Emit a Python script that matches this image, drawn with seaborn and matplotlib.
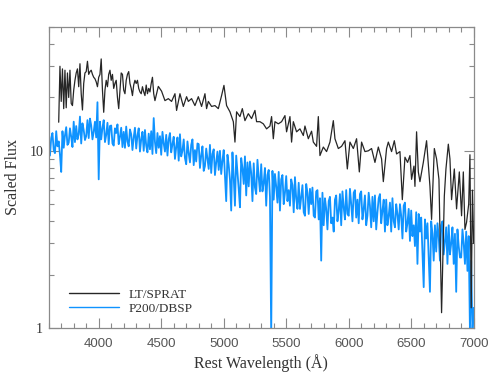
import numpy as np
import pandas as pd
import matplotlib
matplotlib.use("Agg")
import matplotlib.pyplot as plt
import seaborn as sns
from matplotlib.ticker import FixedLocator, NullFormatter, FixedFormatter

# ---------------- data ----------------
series_names = ["LT/SPRAT", "P200/DBSP"]
series_colors = ["#262626", "#0f93ff"]

wl_sprat = (
    list(range(3680, 4450, 10))
    + [4450, 4477, 4503, 4530, 4557, 4583, 4610, 4623, 4650, 4677, 4703, 4717,
       4743, 4770, 4797, 4823, 4850, 4863, 4877, 4903, 4930, 4957, 4983, 5002,
       5023, 5050, 5077, 5090, 5103, 5130, 5149, 5170, 5197, 5223, 5250, 5263,
       5290, 5317, 5343, 5370, 5383, 5397, 5410, 5437, 5463, 5490, 5503, 5530,
       5543, 5557, 5583, 5610, 5637, 5650, 5677, 5703, 5717, 5743, 5757, 5770,
       5797, 5823, 5850, 5877, 5890, 5917, 5943, 5970, 5989, 6010, 6037, 6063,
       6085, 6103, 6130, 6157, 6183, 6210, 6237, 6263, 6277, 6303, 6317, 6343,
       6365, 6383, 6410, 6429, 6450, 6471, 6490, 6503, 6522, 6530, 6543, 6557,
       6570, 6597, 6623, 6650, 6663, 6685, 6703, 6722, 6743, 6765, 6778, 6797,
       6810, 6823, 6845, 6863, 6885, 6903, 6917, 6930, 6943, 6960, 6970, 6980,
       6990, 7000]
)
flux_sprat = [
    14.5, 30,
    19, 29, 17.3, 28.5, 17.5, 27.5, 20, 28.5, 18.5, 18,
    22, 25, 27.5, 29, 23, 31, 21, 17, 24, 27.5,
    28, 32, 27, 28, 28.5, 27, 26, 25.5, 24.5, 23,
    26, 27, 33, 22, 16.5, 22, 25, 23, 27, 28.5,
    25, 27, 22.5, 24, 25, 20, 17.3, 22, 27.5, 27,
    22, 21, 25, 27, 28, 24, 22.5, 20.5, 23.5, 25,
    24, 25, 22.5, 21.5, 21, 23, 21.5, 20.5, 23.5, 21,
    22.5, 21.5, 24, 26, 21,
    19.2, 23.1, 21.7, 19.2, 19.7, 19.0, 21.0, 16.9, 21.0, 17.8, 20.2, 19.0,
    19.7, 18.0, 20.2, 17.8, 21.0, 17.3, 19.0, 17.8, 18.0, 17.3, 20.5, 23.4,
    18.0, 16.6, 14.6, 11.2, 16.6, 15.6, 17.3, 14.8, 16.2, 15.2, 16.9, 14.6,
    14.6, 14.2, 13.3, 13.8, 15.6, 11.7, 14.6, 14.2, 14.6, 15.8, 12.8, 15.6,
    11.2, 14.6, 12.8, 13.3, 12.2, 13.8, 11.7, 12.9, 11.2, 10.6, 15.6, 9.4,
    10.5, 9.9, 11.2, 14.8, 11.7, 10.3, 10.6, 11.4, 7.9, 11.2, 10.3, 11.7,
    7.6, 11.2, 9.9, 10.0, 10.3, 8.6, 10.5, 9.0, 6.7, 10.3, 11.2, 9.9,
    11.4, 9.6, 9.9, 5.3, 9.2, 8.6, 9.4, 6.9, 8.2, 6.3, 12.8, 7.6,
    6.7, 8.6, 11.4, 6.3, 4.1, 10.3, 9.0, 6.9, 1.22, 5.55, 7.9, 10.9,
    9.0, 5.3, 7.9, 4.7, 7.6, 4.3, 7.6, 3.6, 3.95, 5.0, 9.5, 1.3,
    6.0, 3.0,
]

flux_dbsp = [
    12.2, 9.4, 11.8, 12.6, 10.1, 9.7, 12.9, 10.6, 11.3, 9.5,
    7.6, 12.9, 10.4, 12.2, 13.6, 10.8, 11.1, 13.4, 12.0, 10.5,
    14.6, 11.2, 13.8, 11.6, 12.4, 15.6, 11.0, 14.3, 13.1, 11.5,
    12.1, 14.9, 11.8, 15.2, 13.9, 11.6, 12.8, 14.6, 11.9, 18.8,
    6.9, 14.6, 11.6, 13.5, 14.9, 11.2, 12.3, 14.4, 10.9, 13.8,
    13.9, 11.0, 10.7, 13.4, 12.6, 14.1, 10.9, 12.0, 13.5, 10.5,
    12.8, 10.4, 13.7, 11.3, 10.6, 13.2, 12.4, 10.1, 11.9, 13.5,
    10.3, 12.2, 13.4, 9.9, 11.6, 12.8, 10.0, 13.1, 10.7, 9.8,
    12.5, 10.2, 12.9, 9.6, 15.3, 11.2, 9.7, 12.6, 10.4, 12.1,
    9.5, 12.8, 11.0, 9.9, 12.3, 9.4, 11.6, 12.6, 9.8, 10.9,
    12.0, 9.0, 10.5, 11.9, 8.8, 12.4, 9.3, 10.0, 11.6, 9.1,
    8.4, 11.3, 9.7, 8.6, 10.8, 11.6, 8.3, 10.1, 8.7, 11.0,
    10.9, 8.0, 9.4, 10.6, 7.7, 8.2, 10.3, 9.0, 7.9, 10.8,
    7.5, 9.6, 10.2, 7.3, 8.6, 9.9, 7.8, 10.0, 7.4, 8.8,
    10.1, 7.2, 5.2, 9.5, 8.3, 6.9, 4.6, 9.8, 7.1, 4.9,
    9.4, 7.6, 6.1, 4.8, 9.1, 8.0, 6.5, 9.3, 5.6, 8.6,
    6.3, 8.7, 7.5, 5.2, 8.5, 6.2, 5.7, 8.9, 7.1, 5.9,
    8.4, 5.9, 6.6, 8.0, 4.9, 7.3, 7.8, 5.5, 0.9, 7.7,
    5.3, 7.4, 6.3, 5.1, 7.6, 4.6, 6.9, 7.3, 5.0, 5.8,
    7.2, 5.2, 6.0, 4.9, 6.9, 6.4, 4.5, 7.1, 5.4, 4.7,
    6.6, 4.7, 5.5, 6.4, 4.5, 4.3, 6.5, 5.8, 4.4, 6.1,
    5.0, 6.2, 4.3, 4.2, 5.9, 6.0, 4.1, 5.4, 2.4, 5.8,
    3.8, 5.4, 4.7, 3.6, 5.2, 5.5, 3.9, 4.2, 3.5, 5.3,
    5.6, 4.0, 4.6, 5.7, 3.8, 5.9, 4.8, 4.1, 6.0, 4.4,
    4.3, 6.1, 5.0, 4.0, 5.8, 6.0, 4.2, 5.3, 3.9, 5.7,
    5.9, 4.1, 4.7, 5.6, 3.8, 4.3, 5.8, 4.9, 3.7, 5.5,
    4.0, 5.6, 3.6, 4.5, 5.4, 5.7, 3.9, 4.6, 5.3, 3.5,
    5.3, 3.8, 4.3, 5.1, 3.5, 5.4, 4.0, 3.7, 5.0, 4.4,
    3.6, 5.0, 4.3, 3.2, 4.9, 5.1, 3.5, 3.9, 4.7, 3.1,
    4.6, 3.3, 3.8, 2.9, 4.5, 2.3, 4.4, 3.5, 4.2, 2.7,
    1.7, 4.1, 3.2, 3.9, 2.5, 1.6, 4.0, 3.4, 2.4, 3.8,
    2.7, 3.9, 3.3, 2.4, 3.8, 4.0, 2.6, 3.1, 3.7, 2.3,
    3.8, 2.6, 3.0, 3.7, 2.3, 3.4, 1.6, 3.6, 2.9, 2.5,
    2.5, 3.6, 3.0, 2.3, 3.5, 2.1, 3.3, 0.95, 2.4, 0.95,
    1.3,
]
wl_dbsp = list(range(3600, 3600 + 10 * len(flux_dbsp), 10))

x_ticks = [4000, 4500, 5000, 5500, 6000, 6500, 7000]
x_ticklabels = ["4000", "4500", "5000", "5500", "6000", "6500", "7000"]
y_ticks = [1, 10]
y_ticklabels = ["1", "10"]
x_label = "Rest Wavelength (Å)"
y_label = "Scaled Flux"

# ---------------- plot ----------------
sns.set_theme(style="ticks")
plt.rcParams["font.family"] = ["DejaVu Sans"]

df = pd.concat([
    pd.DataFrame({"wl": wl_sprat, "flux": flux_sprat, "spec": series_names[0]}),
    pd.DataFrame({"wl": wl_dbsp, "flux": flux_dbsp, "spec": series_names[1]}),
], ignore_index=True)

fig = plt.figure(figsize=(4.94, 3.82), dpi=100)
ax = fig.add_axes([0.0986, 0.1414, 0.8603, 0.7880])

palette = dict(zip(series_names, series_colors))
sns.lineplot(data=df[df.spec == series_names[1]], x="wl", y="flux", color=palette[series_names[1]],
             lw=1.3, sort=False, estimator=None, ax=ax, label=series_names[1], zorder=2)
sns.lineplot(data=df[df.spec == series_names[0]], x="wl", y="flux", color=palette[series_names[0]],
             lw=0.9, sort=False, estimator=None, ax=ax, label=series_names[0], zorder=3)

ax.set_yscale("log")
ax.set_xlim(3600, 7000)
ax.set_ylim(1, 50)

spine_c = "#8a8a8a"
for s in ax.spines.values():
    s.set_color(spine_c)
    s.set_linewidth(0.9)
    s.set_visible(True)

ax.xaxis.set_major_locator(FixedLocator(x_ticks))
ax.xaxis.set_major_formatter(FixedFormatter(x_ticklabels))
ax.xaxis.set_minor_locator(FixedLocator(list(range(3600, 7001, 100))))
ax.yaxis.set_major_locator(FixedLocator(y_ticks))
ax.yaxis.set_major_formatter(FixedFormatter(y_ticklabels))
ax.yaxis.set_minor_locator(FixedLocator([2, 3, 4, 5, 6, 7, 8, 9, 20, 30, 40, 50]))
ax.yaxis.set_minor_formatter(NullFormatter())

ax.tick_params(which="both", direction="in", top=True, right=True, color=spine_c, width=0.8)
ax.tick_params(which="major", length=7)
ax.tick_params(which="minor", length=3.5)
ax.tick_params(axis="x", which="major", labelsize=9.5, labelcolor="#555555", pad=7)
ax.tick_params(axis="y", which="major", labelsize=10, labelcolor="#333333", pad=4)
for lab in ax.get_xticklabels():
    lab.set_fontfamily("Liberation Sans")
for lab in ax.get_yticklabels():
    lab.set_fontfamily("Liberation Serif")

ax.set_xlabel(x_label, fontfamily="Liberation Serif", fontsize=11.5, color="#333333", labelpad=3)
ax.set_ylabel(y_label, fontfamily="Liberation Serif", fontsize=11.5, color="#333333", labelpad=6)

handles, labels = ax.get_legend_handles_labels()
order = [labels.index(n) for n in series_names]
leg = ax.legend([handles[i] for i in order], [labels[i] for i in order],
                loc="lower left", bbox_to_anchor=(0.02, 0.005), frameon=False,
                handlelength=3.8, handletextpad=0.7, labelspacing=0.12,
                prop={"family": "Liberation Serif", "size": 9.5})
for t in leg.get_texts():
    t.set_color("#333333")
for h in leg.get_lines():
    h.set_linewidth(1.0)

fig.savefig("out.png", dpi=100)
